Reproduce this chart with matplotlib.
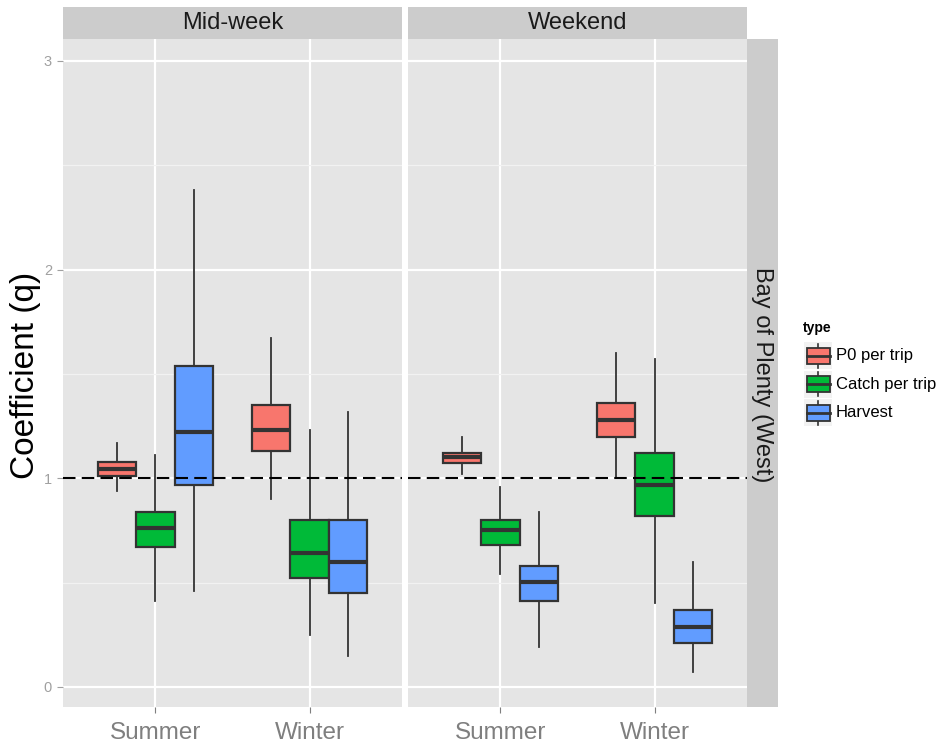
import matplotlib
matplotlib.use('Agg')
from matplotlib import pyplot as plt
from matplotlib.patches import Rectangle

plt.rcParams['font.family'] = ['Liberation Sans', 'DejaVu Sans']

# data
panels = ['Mid-week', 'Weekend']
seasons = ['Summer', 'Winter']
types = ['P0 per trip', 'Catch per trip', 'Harvest']
colors = ['#F8766D', '#00BA38', '#619CFF']

# [whislo, q1, med, q3, whishi] per panel -> season -> type
midweek_summer = [[0.94, 1.01, 1.045, 1.08, 1.17],
                  [0.41, 0.67, 0.76, 0.84, 1.11],
                  [0.46, 0.97, 1.22, 1.54, 2.38]]
midweek_winter = [[0.90, 1.13, 1.23, 1.35, 1.67],
                  [0.25, 0.52, 0.64, 0.80, 1.23],
                  [0.15, 0.45, 0.60, 0.80, 1.32]]
weekend_summer = [[1.02, 1.075, 1.10, 1.12, 1.20],
                  [0.54, 0.68, 0.75, 0.80, 0.96],
                  [0.19, 0.41, 0.505, 0.58, 0.84]]
weekend_winter = [[1.00, 1.20, 1.28, 1.36, 1.60],
                  [0.40, 0.82, 0.97, 1.12, 1.57],
                  [0.07, 0.21, 0.285, 0.37, 0.60]]
panel_data = [[midweek_summer, midweek_winter],
              [weekend_summer, weekend_winter]]

W, H = 944, 749
def px(x0, y0, x1, y1):
    return [x0 / W, 1 - y1 / H, (x1 - x0) / W, (y1 - y0) / H]

fig = plt.figure(figsize=(W / 100, H / 100), dpi=100)
bg = '#E5E5E5'
strip = '#CCCCCC'

axes = [fig.add_axes(px(63, 39, 402, 707)), fig.add_axes(px(408, 39, 747, 707))]
offsets = [-0.25, 0, 0.25]

for p, ax in enumerate(axes):
    ax.set_facecolor(bg)
    for s in range(len(seasons)):
        for t in range(len(types)):
            lo, q1, med, q3, hi = panel_data[p][s][t]
            st = [dict(whislo=lo, q1=q1, med=med, q3=q3, whishi=hi, fliers=[])]
            ax.bxp(st, positions=[s + 1 + offsets[t]], widths=0.25,
                   showcaps=False, showfliers=False, patch_artist=True,
                   boxprops=dict(facecolor=colors[t], edgecolor='#333333', linewidth=1.6),
                   whiskerprops=dict(color='#333333', linewidth=1.3),
                   medianprops=dict(color='#333333', linewidth=3),
                   zorder=3)
    ax.axhline(1, color='black', lw=1.5, ls=(0, (6, 3)), zorder=4)
    ax.set_xlim(0.4, 2.6)
    ax.set_ylim(-0.096, 3.105)
    ax.set_xticks([1, 2])
    ax.set_xticklabels(seasons, fontsize=17.5, color='#7F7F7F')
    ax.set_yticks([0, 1, 2, 3])
    ax.set_yticks([0.5, 1.5, 2.5], minor=True)
    ax.grid(True, which='major', color='white', lw=1.6, zorder=0)
    ax.grid(True, which='minor', axis='y', color='#F2F2F2', lw=0.9, zorder=0)
    ax.set_axisbelow(True)
    for sp in ax.spines.values():
        sp.set_visible(False)
    ax.tick_params(axis='x', length=4, color='#7F7F7F', pad=7)
    ax.tick_params(axis='y', which='minor', length=0)
    if p == 0:
        ax.set_yticklabels(['0', '1', '2', '3'], fontsize=10.5, color='#A0A0A0')
        ax.tick_params(axis='y', length=4, color='#A0A0A0', pad=4)
    else:
        ax.tick_params(axis='y', length=0, labelleft=False)

    # top strip
    x0 = 63 if p == 0 else 408
    x1 = 402 if p == 0 else 747
    fig.add_artist(Rectangle((x0 / W, 1 - 39 / H), (x1 - x0) / W, 32 / H,
                             transform=fig.transFigure, facecolor=strip, edgecolor='none'))
    fig.text((x0 + x1) / 2 / W, 1 - 23 / H, panels[p], fontsize=17,
             ha='center', va='center', color='#1A1A1A')

# right strip
fig.add_artist(Rectangle((747 / W, 1 - 707 / H), 31 / W, 668 / H,
                         transform=fig.transFigure, facecolor=strip, edgecolor='none'))
fig.text(762 / W, 1 - 375 / H, 'Bay of Plenty (West)', fontsize=17, rotation=-90,
         ha='center', va='center', color='#1A1A1A')

fig.text(26 / W, 1 - 375 / H, 'Coefficient (q)', fontsize=24, rotation=90,
         ha='center', va='center', color='black')

# legend
lax = fig.add_axes(px(795, 315, 944, 430))
lax.set_xlim(795, 944)
lax.set_ylim(430, 315)
lax.axis('off')
lax.text(803, 328, 'type', fontsize=10, fontweight='bold', va='center', ha='left')
for t in range(len(types)):
    yc = 356 + t * 28.5
    lax.add_patch(Rectangle((804, yc - 13.5), 28, 27, facecolor='#F2F2F2', edgecolor='none'))
    lax.plot([818, 818], [yc - 12, yc + 12], color='#333333', lw=1.2)
    lax.add_patch(Rectangle((806.5, yc - 8), 23, 16, facecolor=colors[t],
                            edgecolor='#333333', lw=1.3, zorder=3))
    lax.plot([806.5, 829.5], [yc, yc], color='#333333', lw=2, zorder=4)
    lax.text(836, yc, types[t], fontsize=12, va='center', ha='left')

fig.savefig('out.png', dpi=100)
